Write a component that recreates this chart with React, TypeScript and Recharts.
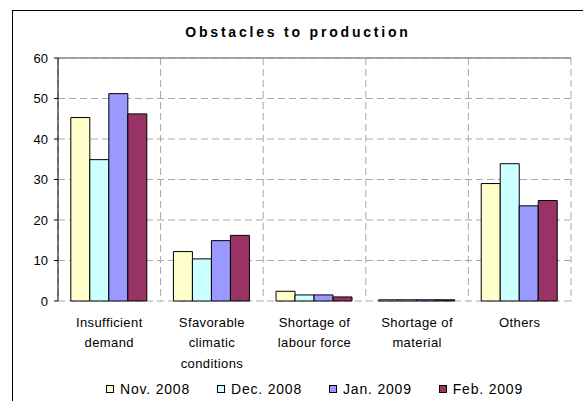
import React from 'react'
import { BarChart, Bar, XAxis, YAxis, CartesianGrid, Legend, ReferenceLine } from 'recharts'

const categories = [
  'Insufficient\ndemand',
  'Sfavorable\nclimatic\nconditions',
  'Shortage of\nlabour force',
  'Shortage of\nmaterial',
  'Others',
]
const nov2008 = [45.3, 12.2, 2.4, 0.3, 29.0]
const dec2008 = [34.9, 10.4, 1.5, 0.3, 33.9]
const jan2009 = [51.2, 14.9, 1.5, 0.3, 23.5]
const feb2009 = [46.2, 16.2, 1.0, 0.3, 24.8]
const yTicks = [0, 10, 20, 30, 40, 50, 60]
const bandTicks = [0, 1, 2, 3, 4, 5]

const seriesList = [
  { key: 'nov', name: 'Nov. 2008', color: '#FFFFCC' },
  { key: 'dec', name: 'Dec. 2008', color: '#CCFFFF' },
  { key: 'jan', name: 'Jan. 2009', color: '#9999FF' },
  { key: 'feb', name: 'Feb. 2009', color: '#993366' },
]

const data = categories.map((name, i) => ({
  name,
  nov: nov2008[i],
  dec: dec2008[i],
  jan: jan2009[i],
  feb: feb2009[i],
}))

const FONT = '"Liberation Sans", Arial, sans-serif'

function CategoryTick(props: any) {
  const { x, y, payload } = props
  const lines = String(payload.value).split('\n')
  return (
    <text
      x={x}
      y={y}
      textAnchor="middle"
      fill="#000"
      style={{ fontFamily: FONT, fontSize: 13, letterSpacing: 0.4 }}
    >
      {lines.map((line, i) => (
        <tspan key={i} x={x} y={y + 25.5 + i * 20.5}>
          {line}
        </tspan>
      ))}
    </text>
  )
}

function LegendBoxes() {
  return (
    <div
      style={{
        display: 'flex',
        justifyContent: 'center',
        alignItems: 'center',
        height: 20,
        fontFamily: FONT,
        fontSize: 14,
        letterSpacing: 0.8,
        color: '#000',
        gap: 27,
      }}
    >
      {seriesList.map((s) => (
        <div key={s.key} style={{ display: 'flex', alignItems: 'center' }}>
          <span
            style={{
              display: 'inline-block',
              width: 8,
              height: 8,
              boxSizing: 'border-box',
              border: '1px solid #000',
              background: s.color,
              marginRight: 6,
            }}
          />
          <span>{s.name}</span>
        </div>
      ))}
    </div>
  )
}

// vertical grid lines sit on the category boundaries, not the centres
const boundaryLines = ({ offset }: any) =>
  bandTicks.map((t) => offset.left + (t * offset.width) / (bandTicks.length - 1))

export default function App() {
  return (
    <div
      style={{
        position: 'absolute',
        left: 12,
        top: 10,
        width: 570,
        height: 390,
        borderTop: '1px solid #000',
        borderLeft: '1px solid #000',
        background: '#fff',
      }}
    >
      <div
        style={{
          position: 'absolute',
          left: 0,
          top: 13,
          width: '100%',
          textAlign: 'center',
          fontFamily: FONT,
          fontWeight: 'bold',
          fontSize: 14,
          lineHeight: '16px',
          letterSpacing: 2.8,
          color: '#000',
        }}
      >
        Obstacles to production
      </div>
      <BarChart
        width={570}
        height={390}
        data={data}
        margin={{ top: 47, right: 12, bottom: 18, left: 0 }}
        barCategoryGap="12.5%"
        barGap={0}
      >
        <CartesianGrid
          stroke="#a8a8a8"
          strokeDasharray="7 4"
          verticalCoordinatesGenerator={boundaryLines}
        />
        <XAxis
          xAxisId="a"
          type="number"
          domain={[0, 5]}
          ticks={bandTicks}
          tick={() => <g />}
          tickSize={4}
          height={0}
          axisLine={{ stroke: '#000' }}
          tickLine={{ stroke: '#000' }}
        />
        <XAxis
          xAxisId="b"
          dataKey="name"
          height={62}
          axisLine={false}
          tickLine={false}
          tickSize={0}
          tickMargin={0}
          interval={0}
          tick={<CategoryTick />}
        />
        <YAxis
          width={45}
          domain={[0, 60]}
          ticks={yTicks}
          tickSize={4}
          tickMargin={6}
          axisLine={{ stroke: '#000' }}
          tickLine={{ stroke: '#000' }}
          tick={{ fill: '#000', fontSize: 13, fontFamily: FONT }}
        />
        <ReferenceLine xAxisId="a" y={60} stroke="#8c8c8c" strokeWidth={1.5} />
        <ReferenceLine xAxisId="a" x={5} stroke="#8c8c8c" strokeWidth={1.5} />
        {seriesList.map((s) => (
          <Bar
            key={s.key}
            xAxisId="b"
            dataKey={s.key}
            name={s.name}
            fill={s.color}
            stroke="#000"
            strokeWidth={1}
            isAnimationActive={false}
          />
        ))}
        <Legend
          height={20}
          width={513}
          wrapperStyle={{ left: 45, top: 368 }}
          content={<LegendBoxes />}
        />
      </BarChart>
    </div>
  )
}
